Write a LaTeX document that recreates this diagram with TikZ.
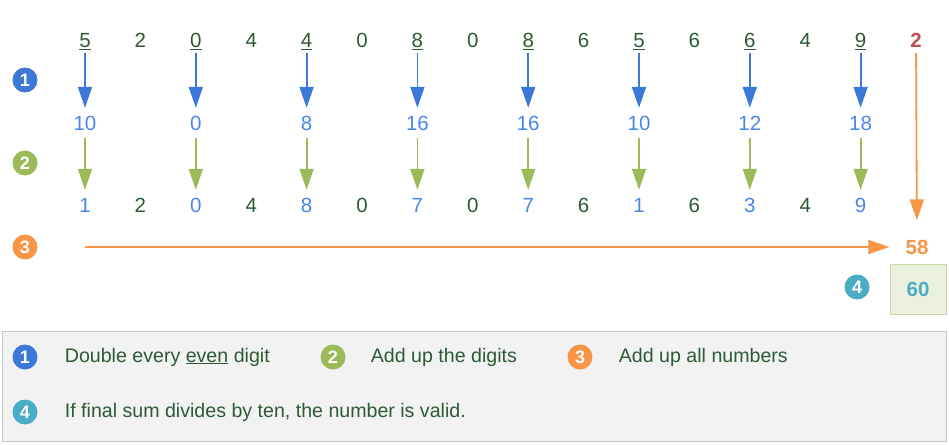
\documentclass[tikz,border=0pt]{standalone}
\usepackage{fontspec}
\setmainfont{Liberation Sans}
\usetikzlibrary{arrows.meta, positioning}
\definecolor{txtgreen}{HTML}{2E5A36}
\definecolor{stepblue}{HTML}{3C78D8}
\definecolor{numblue}{HTML}{4A86E8}
\definecolor{stepgreen}{HTML}{9BBB59}
\definecolor{steporange}{HTML}{F79646}
\definecolor{checkred}{HTML}{C0504D}
\definecolor{stepteal}{HTML}{4BACC6}
\definecolor{boxfill}{HTML}{EBF1DE}
\definecolor{boxline}{HTML}{C9DAA8}
\definecolor{legendgray}{HTML}{F2F2F2}

\begin{document}
\begin{tikzpicture}[x=1pt, y=-1pt, >={Triangle[length=21pt, width=14pt]}]
  \tikzset{digit/.style={inner sep=0pt, text height=15pt, text depth=0pt,
      font=\fontsize{20.5}{20.5}\selectfont},
    bolddigit/.style={digit, font=\fontsize{20.5}{20.5}\selectfont\bfseries},
    badge/.style={circle, fill=#1, text=white, inner sep=0pt,
      minimum size=25pt, font=\fontsize{18}{18}\selectfont\bfseries},
    legtext/.style={inner sep=0pt, text=txtgreen,
      font=\fontsize{19.6}{19.6}\selectfont},
    stepline/.style={->, line width=1.8pt, #1}}
  \useasboundingbox (0,0) rectangle (949,444);
  % card number, every even digit underlined
  \foreach \d [count=\i] in {5,2,0,4,4,0,8,0,8,6,5,6,6,4,9}
    \node [digit, text=txtgreen] (d\i) at ({85+(\i-1)*55.4},40)
      {\ifodd\i\relax\underline{\d}\else\d\fi};
  \node [bolddigit, text=checkred] (d16) at (916,40) {2};
  % doubled digits
  \foreach \v [count=\k] in {10,0,8,16,16,10,12,18} {
    \pgfmathtruncatemacro\c{2*\k-1}
    \node [digit, text=numblue] (m\c) at ({85+(\c-1)*55.4},123) {\v};
    \draw [stepline=stepblue, shorten <=5.5pt, shorten >=7.5pt] (d\c) -- (m\c);
  }
  % digit sums
  \foreach \v [count=\i] in {1,2,0,4,8,0,7,0,7,6,1,6,3,4,9} {
    \ifodd\i\relax\def\col{numblue}\else\def\col{txtgreen}\fi
    \node [digit, text=\col] (r\i) at ({85+(\i-1)*55.4},205) {\v};
  }
  \foreach \c in {1,3,...,15}
    \draw [stepline=stepgreen, shorten <=7.5pt, shorten >=7.5pt] (m\c) -- (r\c);
  % total
  \node [bolddigit, text=steporange] (sum) at (917,247) {58};
  \coordinate (sumstart) at (85,247);
  \draw [stepline=steporange, shorten <=5.5pt, shorten >=19pt] (d16) -- (sum);
  \draw [stepline=steporange, shorten >=16pt] (sumstart) -- (sum);
  \node [draw=boxline, fill=boxfill, minimum width=56pt, minimum height=50pt,
    text=stepteal, font=\fontsize{20.5}{20.5}\selectfont\bfseries] (total) at (918,289) {60};
  \node [badge=stepteal] (b4) at (857,287) {4};
  \node [badge=stepblue] (b1) at (25,80) {1};
  \node [badge=stepgreen] (b2) at (25,163) {2};
  \node [badge=steporange] (b3) at (25,247) {3};
  % legend
  \node [draw=black!22, line width=1pt, fill=legendgray, minimum width=944pt,
    minimum height=110pt] (legend) at (474,386) {};
  \node [badge=stepblue] (l1) at (25,357) {1};
  \node [badge=stepgreen] (l2) at (333,357) {2};
  \node [badge=steporange] (l3) at (580,357) {3};
  \node [badge=stepteal] (l4) at (25,412) {4};
  \node [legtext, right=27pt of l1] (t1) {Double every \underline{even} digit};
  \node [legtext, right=25pt of l2] (t2) {Add up the digits};
  \node [legtext, right=26pt of l3] (t3) {Add up all numbers};
  \node [legtext, right=27pt of l4] (t4) {If final sum divides by ten, the number is valid.};
\end{tikzpicture}
\end{document}
